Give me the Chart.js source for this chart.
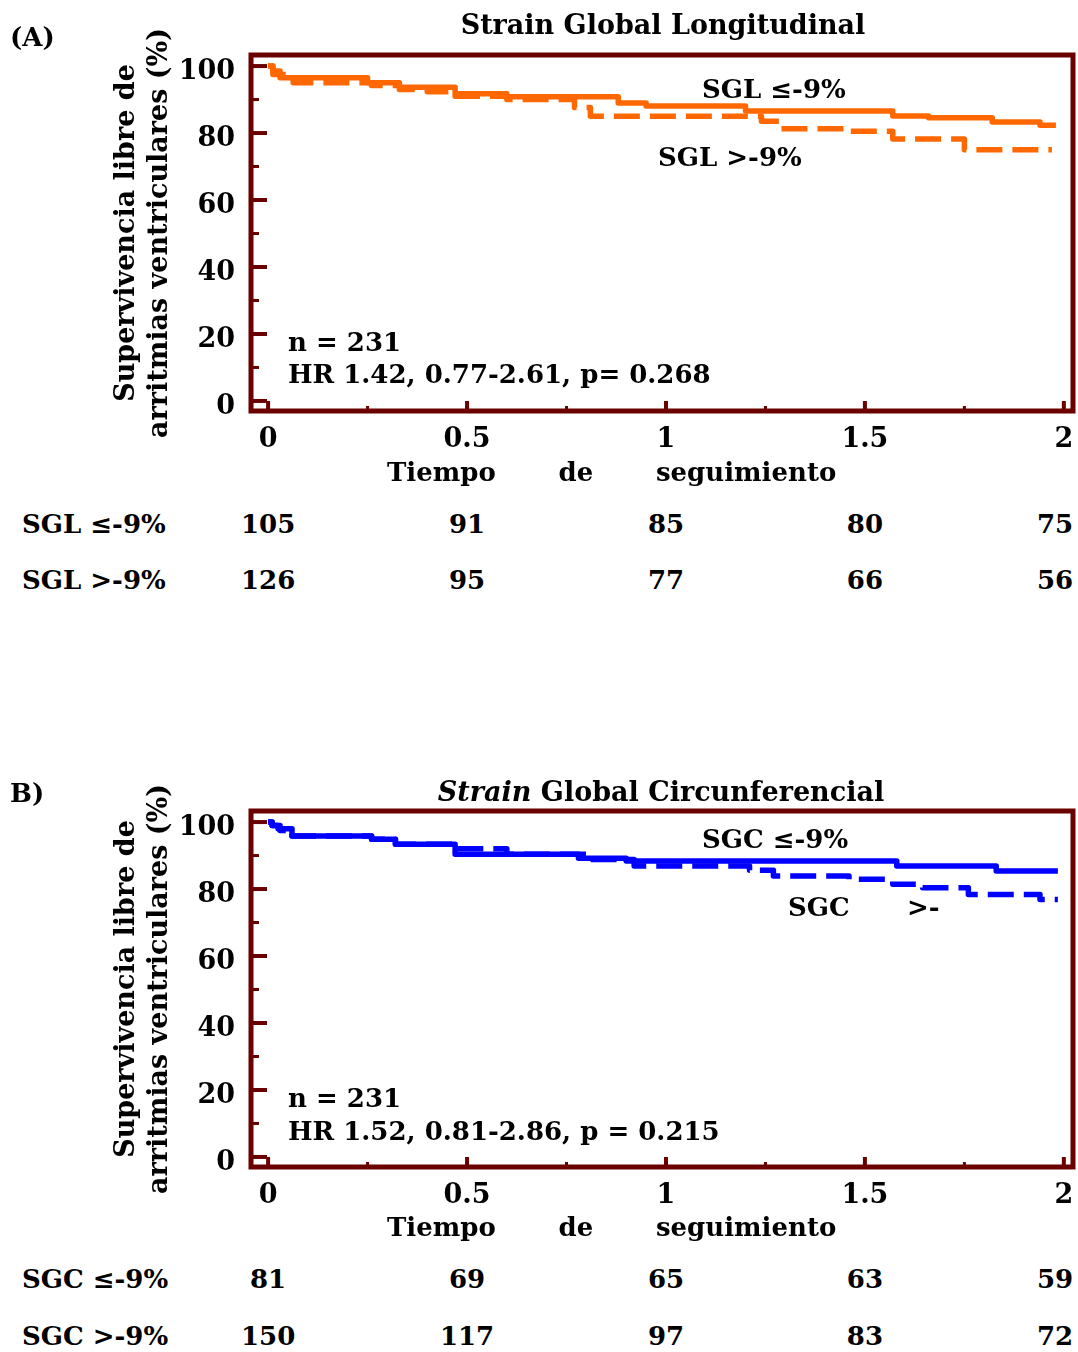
<!DOCTYPE html>
<html><head><meta charset="utf-8">
<script src="https://cdn.jsdelivr.net/npm/chart.js@4.4.1/dist/chart.umd.min.js"></script>
<style>
html,body{margin:0;padding:0;background:#fff;}
body{width:1078px;height:1352px;position:relative;overflow:hidden;font-family:"DejaVu Serif",serif;font-weight:bold;color:#000;}
.panel{position:absolute;left:0;width:1078px;height:600px;}
canvas{position:absolute;left:0;top:0;}
.t{position:absolute;font-size:26px;line-height:30px;white-space:pre;transform:translateY(-50%);}
.c{transform:translate(-50%,-50%);}
.big{font-size:27px;}
</style></head><body>
<div class="panel" id="panelA" style="top:0"><canvas id="cA" width="1078" height="480"></canvas></div>
<div class="panel" id="panelB" style="top:756px"><canvas id="cB" width="1078" height="480"></canvas></div>
<script>
// ---------------- DATA ----------------
const xTickValues = [0, 0.5, 1, 1.5, 2];
const xTickLabels = ['0', '0.5', '1', '1.5', '2'];
const xMinorTicks = [0.25, 0.75, 1.25, 1.75];
const yTickValues = [0, 20, 40, 60, 80, 100];
const yTickLabels = ['0', '20', '40', '60', '80', '100'];
const yMinorTicks = [10, 30, 50, 70, 90];
const riskTimes = [0, 0.5, 1, 1.5, 2];

// Panel A: Strain Global Longitudinal
const sglLowTime  = [0, 0.012, 0.03, 0.25, 0.33, 0.47, 0.6, 0.88, 0.95, 1.2, 1.57, 1.66, 1.82, 1.94, 1.98];
const sglLowSurv  = [100, 98.5, 96.5, 95, 93.7, 91.7, 90.8, 89, 88.1, 86.6, 85.1, 84.6, 83.3, 82.3, 82.3];
const sglHighTime = [0, 0.012, 0.063, 0.26, 0.33, 0.40, 0.47, 0.60, 0.77, 0.81, 1.24, 1.29, 1.46, 1.57, 1.75, 1.97];
const sglHighSurv = [100, 97.5, 95, 94.2, 93, 92.3, 91, 90, 87.6, 85, 83.5, 81.3, 80.5, 78.2, 75, 75];
const sglRiskLow  = [105, 91, 85, 80, 75];
const sglRiskHigh = [126, 95, 77, 66, 56];

// Panel B: Strain Global Circunferencial
const sgcLowTime  = [0, 0.01, 0.025, 0.06, 0.26, 0.32, 0.47, 0.78, 0.9, 1.58, 1.83, 1.985];
const sgcLowSurv  = [100, 99, 98, 95.8, 94.9, 93.4, 90.4, 89.2, 88.4, 86.9, 85.4, 85.4];
const sgcHighTime = [0, 0.01, 0.03, 0.06, 0.26, 0.32, 0.47, 0.60, 0.80, 0.92, 1.21, 1.27, 1.46, 1.57, 1.645, 1.76, 1.94, 1.985];
const sgcHighSurv = [100, 99, 97.5, 95.8, 94.9, 93.4, 92, 90.4, 88.8, 86.9, 85.6, 83.9, 82.9, 81.4, 80.4, 78.4, 76.9, 76.9];
const sgcRiskLow  = [81, 69, 65, 63, 59];
const sgcRiskHigh = [150, 117, 97, 83, 72];

// ---------------- STYLE ----------------
const FRAME = '#6B0000';
const ORANGE = '#FF6800';
const BLUE = '#0000FF';
const FONT = '"DejaVu Serif", serif';

const frameTicks = {
  id: 'frameTicks',
  afterDatasetsDraw(chart) {
    const {ctx, chartArea: a, scales: {x, y}} = chart;
    ctx.save();
    ctx.strokeStyle = FRAME;
    ctx.lineCap = 'butt';
    yTickValues.forEach(v => {
      const py = y.getPixelForValue(v);
      ctx.lineWidth = 4; ctx.beginPath(); ctx.moveTo(a.left, py); ctx.lineTo(a.left + 16, py); ctx.stroke();
    });
    yMinorTicks.forEach(v => {
      const py = y.getPixelForValue(v);
      ctx.lineWidth = 3; ctx.beginPath(); ctx.moveTo(a.left, py); ctx.lineTo(a.left + 8, py); ctx.stroke();
    });
    xTickValues.forEach(v => {
      const px = x.getPixelForValue(v);
      ctx.lineWidth = 4; ctx.beginPath(); ctx.moveTo(px, a.bottom); ctx.lineTo(px, a.bottom - 10); ctx.stroke();
    });
    xMinorTicks.forEach(v => {
      const px = x.getPixelForValue(v);
      ctx.lineWidth = 3; ctx.beginPath(); ctx.moveTo(px, a.bottom); ctx.lineTo(px, a.bottom - 5); ctx.stroke();
    });
    ctx.lineWidth = 5;
    ctx.strokeRect(a.left, a.top, a.right - a.left, a.bottom - a.top);
    ctx.restore();
  }
};

function pts(t, s) { return t.map((v, i) => ({x: v, y: s[i]})); }

function makeChart(id, tLow, sLow, tHigh, sHigh, color) {
  return new Chart(document.getElementById(id), {
    type: 'line',
    data: {
      datasets: [
        {data: pts(tLow, sLow), borderColor: color, borderWidth: 5.5, stepped: 'before', pointRadius: 0, fill: false, borderJoinStyle: 'round'},
        {data: pts(tHigh, sHigh), borderColor: color, borderWidth: 5.5, stepped: 'before', pointRadius: 0, fill: false, borderDash: [26, 10], borderJoinStyle: 'round'}
      ]
    },
    options: {
      responsive: false, animation: false, events: [],
      layout: {padding: {left: 0, right: 5, top: 55, bottom: 0}},
      plugins: {legend: {display: false}, tooltip: {enabled: false}, title: {display: false}},
      scales: {
        x: {
          type: 'linear', min: -0.043, max: 2.023,
          grid: {display: false, drawTicks: false}, border: {display: false},
          afterBuildTicks: s => { s.ticks = xTickValues.map(v => ({value: v})); },
          afterFit: s => { s.height = 69; s.paddingLeft = 0; s.paddingRight = 0; },
          ticks: {color: '#000', padding: 13, maxRotation: 0, autoSkip: false,
                  font: {family: FONT, size: 27, weight: 'bold'},
                  callback: (v, i) => xTickLabels[i]}
        },
        y: {
          type: 'linear', min: -3.0, max: 103.3,
          grid: {display: false, drawTicks: false}, border: {display: false},
          afterBuildTicks: s => { s.ticks = yTickValues.map(v => ({value: v})); },
          afterFit: s => { s.width = 251; s.paddingTop = 0; s.paddingBottom = 0; },
          ticks: {color: '#000', padding: 16, autoSkip: false, labelOffset: 6,
                  font: {family: FONT, size: 27, weight: 'bold'},
                  callback: (v, i) => yTickLabels[i]},
          title: {display: true, text: ['Supervivencia libre de', 'arritmias ventriculares (%)'],
                  color: '#000', padding: {top: 110, bottom: 0},
                  font: {family: FONT, size: 27, weight: 'bold', lineHeight: '33px'}}
        }
      }
    },
    plugins: [frameTicks]
  });
}

const chartA = makeChart('cA', sglLowTime, sglLowSurv, sglHighTime, sglHighSurv, ORANGE);
const chartB = makeChart('cB', sgcLowTime, sgcLowSurv, sgcHighTime, sgcHighSurv, BLUE);

function addText(parent, html, left, cy, cls, extra) {
  const d = document.createElement('div');
  d.className = 't' + (cls ? ' ' + cls : '');
  d.innerHTML = html;
  d.style.left = left + 'px';
  d.style.top = cy + 'px';
  if (extra) Object.assign(d.style, extra);
  parent.appendChild(d);
  return d;
}

function riskRow(parent, chart, label, values, cy) {
  addText(parent, label, 22, cy);
  values.forEach((v, i) => {
    const d = addText(parent, String(v), 0, cy, 'c');
    let cx = chart.scales.x.getPixelForValue(riskTimes[i]);
    const w = d.offsetWidth;
    if (cx + w / 2 > 1073) cx = 1073 - w / 2;
    d.style.left = cx + 'px';
  });
}

const pA = document.getElementById('panelA');
const pB = document.getElementById('panelB');
const xTitleStyle = {wordSpacing: '1.4px'};

// Panel A texts
addText(pA, '(A)', 10, 37);
addText(pA, 'Strain Global Longitudinal', 663, 25, 'c big');
addText(pA, 'SGL ≤-9%', 702, 89);
addText(pA, 'SGL &gt;-9%', 658, 157);
addText(pA, 'n = 231', 288, 342);
addText(pA, 'HR 1.42, 0.77-2.61, p= 0.268', 288, 374);
addText(pA, 'Tiempo      de      seguimiento', 387, 472, '', xTitleStyle);
riskRow(pA, chartA, 'SGL ≤-9%', sglRiskLow, 524);
riskRow(pA, chartA, 'SGL &gt;-9%', sglRiskHigh, 580);

// Panel B texts (relative to panel top 756)
addText(pB, 'B)', 10, 37);
addText(pB, '<i>Strain</i> Global Circunferencial', 661, 36, 'c big');
addText(pB, 'SGC ≤-9%', 702, 83);
addText(pB, 'SGC', 788, 151);
addText(pB, '&gt;-', 907, 151);
addText(pB, 'n = 231', 288, 342);
addText(pB, 'HR 1.52, 0.81-2.86, p = 0.215', 288, 375);
addText(pB, 'Tiempo      de      seguimiento', 387, 471, '', xTitleStyle);
riskRow(pB, chartB, 'SGC ≤-9%', sgcRiskLow, 523);
riskRow(pB, chartB, 'SGC &gt;-9%', sgcRiskHigh, 580);
</script>
</body></html>
